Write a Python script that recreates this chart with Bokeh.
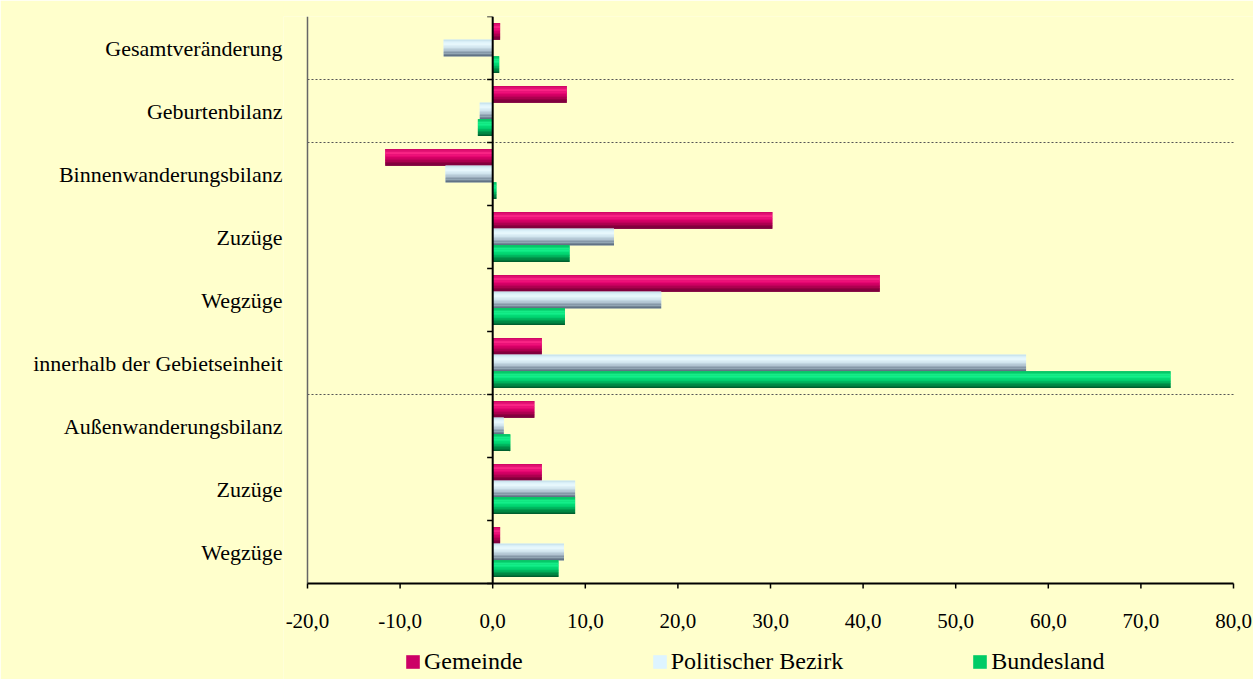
import numpy as np
from bokeh.plotting import figure
from bokeh.models import (FixedTicker, CustomJSTickFormatter, Legend, LegendItem, Range1d)
from bokeh.core.properties import value
from bokeh.embed import file_html
from bokeh.resources import INLINE

# ---- data (top to bottom) ----
categories = ["Gesamtveränderung", "Geburtenbilanz", "Binnenwanderungsbilanz", "Zuzüge",
              "Wegzüge", "innerhalb der Gebietseinheit", "Außenwanderungsbilanz", "Zuzüge", "Wegzüge"]
gemeinde = [0.8, 8.0, -11.6, 30.2, 41.8, 5.3, 4.5, 5.3, 0.8]
bezirk = [-5.3, -1.4, -5.1, 13.1, 18.2, 57.6, 1.2, 8.9, 7.7]
bundesland = [0.7, -1.6, 0.4, 8.3, 7.8, 73.2, 1.9, 8.9, 7.1]
series_names = ["Gemeinde", "Politischer Bezirk", "Bundesland"]
x_ticks = [-20, -10, 0, 10, 20, 30, 40, 50, 60, 70, 80]
x_tick_labels = ["-20,0", "-10,0", "0,0", "10,0", "20,0", "30,0", "40,0", "50,0", "60,0", "70,0", "80,0"]

FONT = "Liberation Serif"
BG = "#FFFFCC"

n = len(categories)
ypos = np.array([n - 1 - i for i in range(n)], dtype=float)
labels_by_y = [""] * n
for i, c in enumerate(categories):
    labels_by_y[n - 1 - i] = c

# geometry (pixels)
PLOT_L, PLOT_R = 307, 1233          # value axis span on the page
FRAME_L, FRAME_R = 283, 1253         # drawing frame (a bit wider so edge labels fit)
FRAME_H = 663
PX_PER_CAT = 63.0
xmin, xmax = x_ticks[0], x_ticks[-1]
px_per_unit = (PLOT_R - PLOT_L) / (xmax - xmin)
x_lo = xmin - (PLOT_L - FRAME_L) / px_per_unit
x_hi = xmax + (FRAME_R - PLOT_R) / px_per_unit
y_top = n - 0.5
y_bot = y_top - FRAME_H / PX_PER_CAT
y_axis_pos = -0.5

p = figure(frame_width=FRAME_R - FRAME_L, frame_height=FRAME_H, output_backend="svg",
           toolbar_location=None, x_range=Range1d(x_lo, x_hi), y_range=Range1d(y_bot, y_top),
           min_border_left=FRAME_L, min_border_right=0, min_border_top=16, min_border_bottom=0)
p.background_fill_color = BG
p.border_fill_color = BG
p.outline_line_color = None
p.grid.visible = False
p.xaxis.visible = False

# dotted separators
seps = [n - 1.5, n - 2.5, n - 6.5]
p.segment(x0=[xmin] * 3, x1=[xmax] * 3, y0=seps, y1=seps, line_color="#555555",
          line_dash="2 2", line_width=1)

bar_h = 0.265
offsets = [bar_h, 0.0, -bar_h]
legend_colors = ["#CC0066", "#DDF4FF", "#00CC66"]
stops = [
    [(0.0, "#C8005E"), (0.25, "#FF2A8A"), (0.5, "#E0006C"), (0.8, "#980044"), (1.0, "#600030")],
    [(0.0, "#C4E0EC"), (0.25, "#ECFCFF"), (0.5, "#CCE0EA"), (0.8, "#8496A6"), (1.0, "#586A7C")],
    [(0.0, "#00B85C"), (0.25, "#1AF690"), (0.5, "#00D874"), (0.8, "#008844"), (1.0, "#00542A")],
]


def hex2rgb(h):
    h = h.lstrip("#")
    return np.array([int(h[i:i + 2], 16) for i in (0, 2, 4)], dtype=float)


def interp(st, t):
    for (t0, c0), (t1, c1) in zip(st[:-1], st[1:]):
        if t0 <= t <= t1:
            f = (t - t0) / (t1 - t0)
            c = hex2rgb(c0) * (1 - f) + hex2rgb(c1) * f
            return "#%02x%02x%02x" % tuple(int(round(v)) for v in c)
    return st[-1][1]


NB = 12
items = []
for s, vals in enumerate([gemeinde, bezirk, bundesland]):
    yc = ypos + offsets[s]
    base = p.hbar(y=yc, height=bar_h, left=0, right=vals, fill_color=legend_colors[s],
                  line_color=None)
    for k in range(NB):
        t = (k + 0.5) / NB
        yk = yc + bar_h * (0.5 - t)
        p.hbar(y=yk, height=bar_h / NB * 1.08, left=0, right=vals,
               fill_color=interp(stops[s], t), line_color=None)
    items.append(LegendItem(label=series_names[s], renderers=[base]))

# left plot-area line
p.segment(x0=[xmin], x1=[xmin], y0=[y_axis_pos], y1=[y_top], line_color="#666666", line_width=1.5)
# zero (category) axis and its ticks at category boundaries
p.segment(x0=[0], x1=[0], y0=[y_axis_pos], y1=[y_top], line_color="black", line_width=2)
bounds = np.arange(-0.5, n, 1.0)
p.segment(x0=np.full(len(bounds), -0.6), x1=np.zeros(len(bounds)), y0=bounds, y1=bounds,
          line_color="black", line_width=1.5)

# value axis (drawn at the bottom of the categories)
p.segment(x0=[xmin], x1=[xmax], y0=[y_axis_pos], y1=[y_axis_pos], line_color="black", line_width=2)
tick_len = 5 / PX_PER_CAT
p.segment(x0=x_ticks, x1=x_ticks, y0=[y_axis_pos] * len(x_ticks),
          y1=[y_axis_pos - tick_len] * len(x_ticks), line_color="black", line_width=1.5)
p.text(x=x_ticks, y=[y_axis_pos] * len(x_ticks), text=x_tick_labels, y_offset=37,
       text_align="center", text_baseline="middle", text_font=value(FONT),
       text_font_size="21px", text_color="black")

# y axis labels
ya = p.yaxis[0]
ya.ticker = FixedTicker(ticks=list(range(n)))
ya.formatter = CustomJSTickFormatter(args=dict(labels=labels_by_y),
                                     code="return labels[Math.round(tick)] || '';")
ya.axis_line_color = None
ya.major_tick_line_color = None
ya.minor_tick_line_color = None
ya.major_tick_out = 0
ya.major_tick_in = 0
ya.major_label_standoff = 1
ya.major_label_text_font = FONT
ya.major_label_text_font_size = "22px"
ya.major_label_text_color = "black"

legend = Legend(items=items, orientation="horizontal", location=(404 - FRAME_L, 4),
                spacing=128, glyph_width=17, glyph_height=17, label_standoff=3,
                label_height=17, label_text_baseline="middle",
                label_text_font=FONT, label_text_font_size="24px", label_text_color="black",
                border_line_color=None, background_fill_alpha=0, margin=0, padding=0)
p.add_layout(legend)

open("out.html", "w").write(file_html(p, INLINE))
